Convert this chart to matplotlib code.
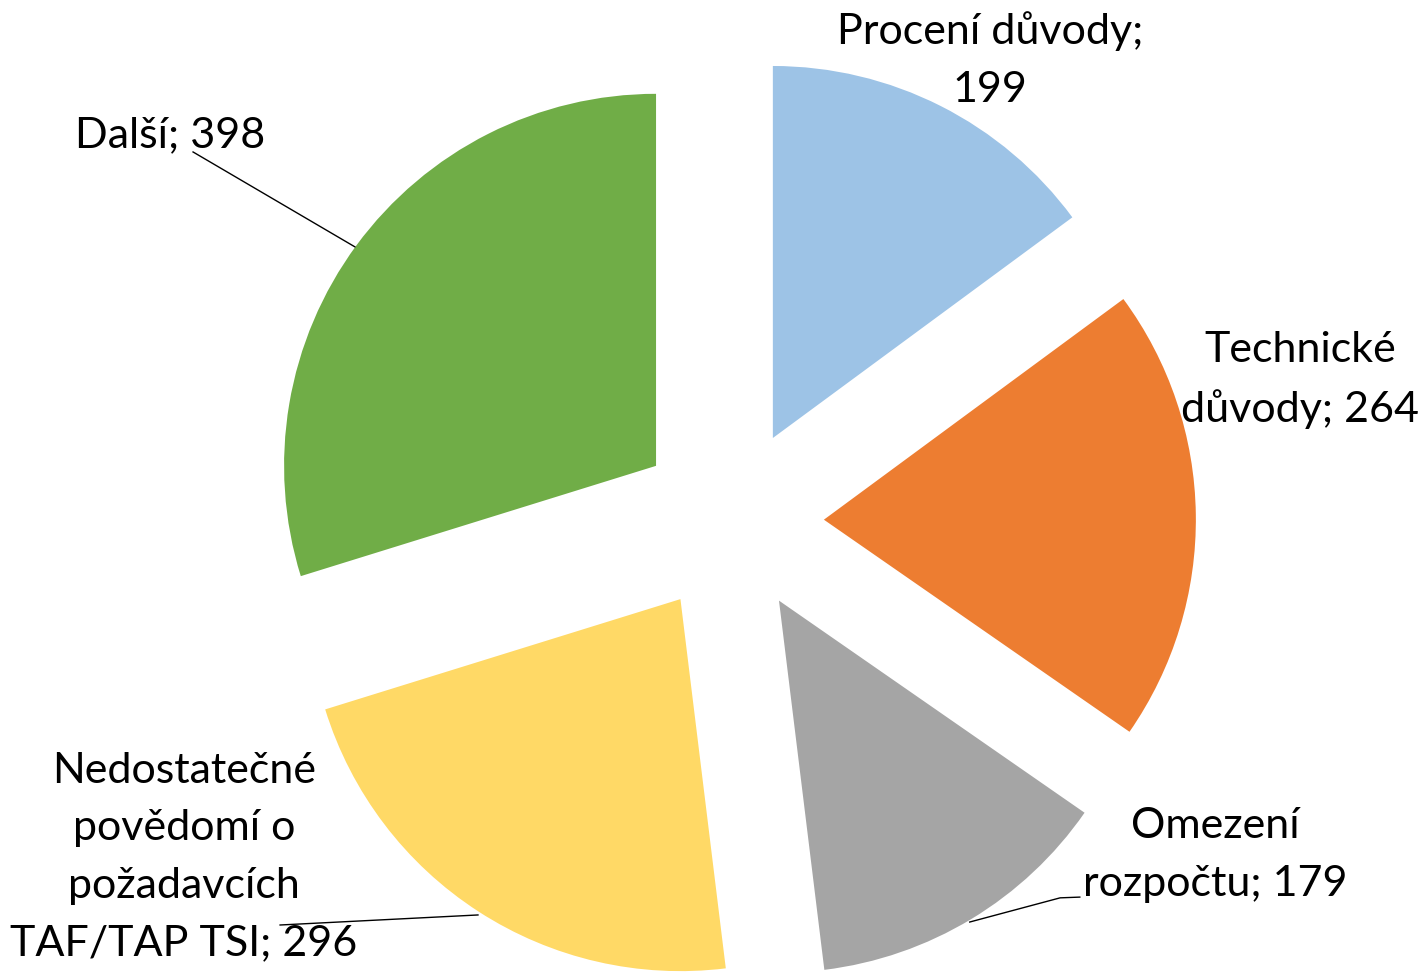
import matplotlib
matplotlib.use('Agg')
import matplotlib.pyplot as plt

labels = ['Procení důvody;\n199', 'Technické\ndůvody; 264', 'Omezení\nrozpočtu; 179',
          'Nedostatečné\npovědomí o\npožadavcích\nTAF/TAP TSI; 296', 'Další; 398']
values = [199, 264, 179, 296, 398]
colors = ['#9DC3E6', '#ED7D31', '#A5A5A5', '#FFD966', '#70AD47']

# label positions (data coords, pie radius = 1)
label_pos = [(0.696, 1.239), (1.530, 0.379), (1.301, -0.898), (-1.470, -0.903), (-1.508, 1.038)]

plt.rcParams['font.family'] = ['Lato', 'DejaVu Sans']

fig = plt.figure(figsize=(14.25, 9.75), dpi=100)
ax = fig.add_axes([0, 0, 1, 1])
ax.pie(values, colors=colors, startangle=90, counterclock=False,
       explode=[0.25] * len(values), radius=1, frame=False)

for txt, (x, y) in zip(labels, label_pos):
    ax.text(x, y, txt, ha='center', va='center', fontsize=31, linespacing=1.62)

# leader lines
ax.plot([-1.446, -1.011], [0.992, 0.737], color='black', lw=1)
ax.plot([-1.212, -0.680], [-1.086, -1.059], color='black', lw=1)
ax.plot([0.938, 0.885, 0.642], [-1.011, -1.013, -1.078], color='black', lw=1)

ax.set_xlim(-1.965, 1.866)
ax.set_ylim(-1.2204, 1.4005)
ax.set_aspect('auto')
ax.axis('off')

fig.savefig('out.png', dpi=100)
